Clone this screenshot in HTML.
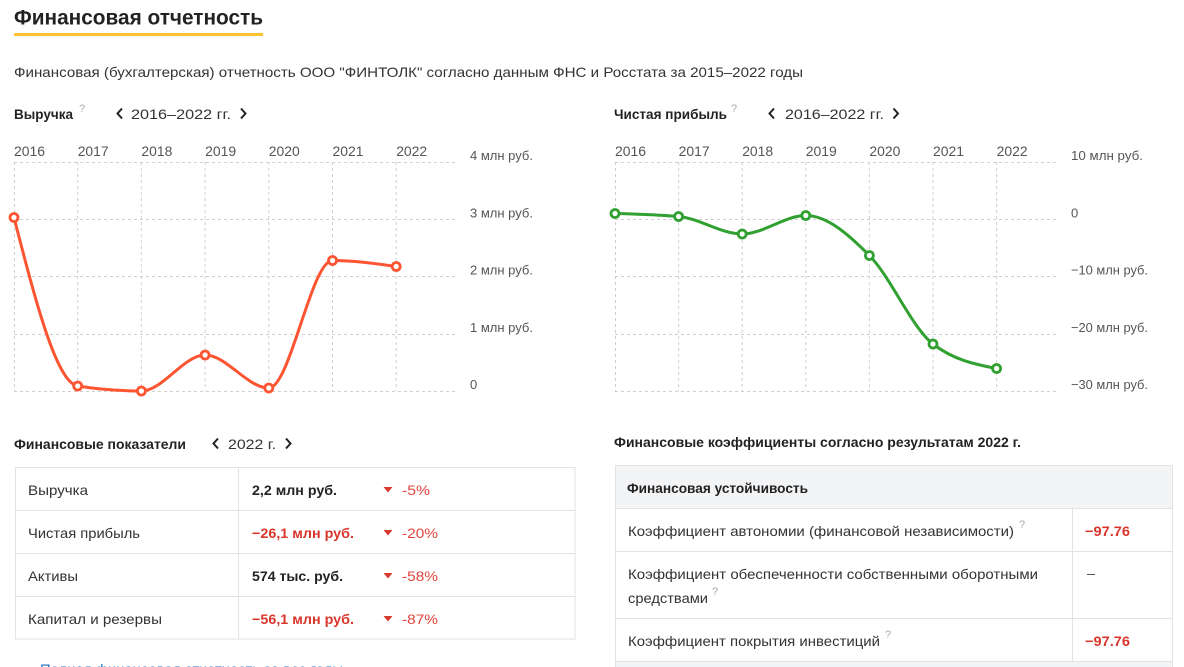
<!DOCTYPE html>
<html lang="ru">
<head>
<meta charset="utf-8">
<style>
html,body{margin:0;padding:0;background:#fff;}
body{width:1184px;height:667px;overflow:hidden;}
svg{display:block;}
text{font-family:"Liberation Sans","DejaVu Sans",sans-serif;}
</style>
</head>
<body>
<svg width="1184" height="667" viewBox="0 0 1184 667" xmlns="http://www.w3.org/2000/svg">
<rect x="0" y="0" width="1184" height="667" fill="#fff"/>

<!-- Title -->
<text x="14" y="24.5" font-size="21" font-weight="bold" fill="#222" textLength="249" lengthAdjust="spacingAndGlyphs">Финансовая отчетность</text>
<rect x="14" y="33" width="249" height="3" fill="#fcc331"/>

<text x="14" y="77" font-size="14" fill="#333" textLength="789" lengthAdjust="spacingAndGlyphs">Финансовая (бухгалтерская) отчетность ООО "ФИНТОЛК" согласно данным ФНС и Росстата за 2015–2022 годы</text>

<!-- Left chart header -->
<text x="14" y="119" font-size="14" font-weight="bold" fill="#222" textLength="59" lengthAdjust="spacingAndGlyphs">Выручка</text>
<text x="79" y="112" font-size="11" fill="#aaa">?</text>
<path d="M122,108.5 L117.5,113.5 L122,118.5" stroke="#222" stroke-width="2" fill="none"/>
<text x="131" y="119" font-size="14" fill="#333" textLength="100" lengthAdjust="spacingAndGlyphs">2016–2022 гг.</text>
<path d="M241,108.5 L245.5,113.5 L241,118.5" stroke="#222" stroke-width="2" fill="none"/>

<!-- Right chart header -->
<text x="614" y="119" font-size="14" font-weight="bold" fill="#222" textLength="113" lengthAdjust="spacingAndGlyphs">Чистая прибыль</text>
<text x="731" y="112" font-size="11" fill="#aaa">?</text>
<path d="M774,108.5 L769.5,113.5 L774,118.5" stroke="#222" stroke-width="2" fill="none"/>
<text x="785" y="119" font-size="14" fill="#333" textLength="99" lengthAdjust="spacingAndGlyphs">2016–2022 гг.</text>
<path d="M893.5,108.5 L898,113.5 L893.5,118.5" stroke="#222" stroke-width="2" fill="none"/>

<!-- Left chart grid -->
<g stroke="#cfcfcf" stroke-width="1" stroke-dasharray="3,3" fill="none">
  <line x1="14" y1="162.5" x2="457" y2="162.5"/>
  <line x1="14" y1="219.5" x2="457" y2="219.5"/>
  <line x1="14" y1="276.5" x2="457" y2="276.5"/>
  <line x1="14" y1="334.5" x2="457" y2="334.5"/>
  <line x1="14" y1="391.5" x2="457" y2="391.5"/>
  <line x1="14.5" y1="162" x2="14.5" y2="391"/>
  <line x1="77.7" y1="162" x2="77.7" y2="391"/>
  <line x1="141.4" y1="162" x2="141.4" y2="391"/>
  <line x1="205.1" y1="162" x2="205.1" y2="391"/>
  <line x1="268.8" y1="162" x2="268.8" y2="391"/>
  <line x1="332.5" y1="162" x2="332.5" y2="391"/>
  <line x1="396.2" y1="162" x2="396.2" y2="391"/>
</g>
<g font-size="14" fill="#555">
  <text x="14" y="156" textLength="31" lengthAdjust="spacingAndGlyphs">2016</text>
  <text x="77.7" y="156" textLength="31" lengthAdjust="spacingAndGlyphs">2017</text>
  <text x="141.4" y="156" textLength="31" lengthAdjust="spacingAndGlyphs">2018</text>
  <text x="205.1" y="156" textLength="31" lengthAdjust="spacingAndGlyphs">2019</text>
  <text x="268.8" y="156" textLength="31" lengthAdjust="spacingAndGlyphs">2020</text>
  <text x="332.5" y="156" textLength="31" lengthAdjust="spacingAndGlyphs">2021</text>
  <text x="396.2" y="156" textLength="31" lengthAdjust="spacingAndGlyphs">2022</text>
</g>
<g font-size="13" fill="#555">
  <text x="470" y="160" textLength="63" lengthAdjust="spacingAndGlyphs">4 млн руб.</text>
  <text x="470" y="217.5" textLength="63" lengthAdjust="spacingAndGlyphs">3 млн руб.</text>
  <text x="470" y="274.5" textLength="63" lengthAdjust="spacingAndGlyphs">2 млн руб.</text>
  <text x="470" y="332" textLength="63" lengthAdjust="spacingAndGlyphs">1 млн руб.</text>
  <text x="470" y="389">0</text>
</g>
<path d="M14,217.5 C35.23,300.08 56.47,382.67 77.7,386 C98.93,389.33 120.17,391 141.4,391 C162.63,391 183.87,355 205.1,355 C226.33,355 247.57,388 268.8,388 C290.03,388 311.27,260.5 332.5,260.5 C353.73,260.5 374.97,263.5 396.2,266.5" stroke="#fd5432" stroke-width="3" fill="none"/>
<g fill="#fff" stroke="#fd5432" stroke-width="2.8">
  <circle cx="14" cy="217.5" r="4"/>
  <circle cx="77.7" cy="386" r="4"/>
  <circle cx="141.4" cy="391" r="4"/>
  <circle cx="205.1" cy="355" r="4"/>
  <circle cx="268.8" cy="388" r="4"/>
  <circle cx="332.5" cy="260.5" r="4"/>
  <circle cx="396.2" cy="266.5" r="4"/>
</g>

<!-- Right chart grid -->
<g stroke="#cfcfcf" stroke-width="1" stroke-dasharray="3,3" fill="none">
  <line x1="615" y1="162.5" x2="1059" y2="162.5"/>
  <line x1="615" y1="219.5" x2="1059" y2="219.5"/>
  <line x1="615" y1="276.5" x2="1059" y2="276.5"/>
  <line x1="615" y1="334.5" x2="1059" y2="334.5"/>
  <line x1="615" y1="391.5" x2="1059" y2="391.5"/>
  <line x1="615.5" y1="162" x2="615.5" y2="391"/>
  <line x1="678.6" y1="162" x2="678.6" y2="391"/>
  <line x1="742.2" y1="162" x2="742.2" y2="391"/>
  <line x1="805.8" y1="162" x2="805.8" y2="391"/>
  <line x1="869.4" y1="162" x2="869.4" y2="391"/>
  <line x1="933" y1="162" x2="933" y2="391"/>
  <line x1="996.6" y1="162" x2="996.6" y2="391"/>
</g>
<g font-size="14" fill="#555">
  <text x="615" y="156" textLength="31" lengthAdjust="spacingAndGlyphs">2016</text>
  <text x="678.6" y="156" textLength="31" lengthAdjust="spacingAndGlyphs">2017</text>
  <text x="742.2" y="156" textLength="31" lengthAdjust="spacingAndGlyphs">2018</text>
  <text x="805.8" y="156" textLength="31" lengthAdjust="spacingAndGlyphs">2019</text>
  <text x="869.4" y="156" textLength="31" lengthAdjust="spacingAndGlyphs">2020</text>
  <text x="933" y="156" textLength="31" lengthAdjust="spacingAndGlyphs">2021</text>
  <text x="996.6" y="156" textLength="31" lengthAdjust="spacingAndGlyphs">2022</text>
</g>
<g font-size="13" fill="#555">
  <text x="1071" y="160" textLength="72" lengthAdjust="spacingAndGlyphs">10 млн руб.</text>
  <text x="1071" y="217.5">0</text>
  <text x="1071" y="274.5" textLength="77" lengthAdjust="spacingAndGlyphs">−10 млн руб.</text>
  <text x="1071" y="332" textLength="77" lengthAdjust="spacingAndGlyphs">−20 млн руб.</text>
  <text x="1071" y="389" textLength="77" lengthAdjust="spacingAndGlyphs">−30 млн руб.</text>
</g>
<path d="M615,213.5 C636.2,214 657.4,214.5 678.6,216.5 C699.8,218.5 721,234 742.2,234 C763.4,234 784.6,215.5 805.8,215.5 C827,215.5 848.2,234.08 869.4,255.5 C890.6,276.92 911.8,327.67 933,344 C954.2,360.33 975.4,364.42 996.6,368.5" stroke="#30a030" stroke-width="3" fill="none"/>
<g fill="#fff" stroke="#30a030" stroke-width="2.8">
  <circle cx="615" cy="213.5" r="4"/>
  <circle cx="678.6" cy="216.5" r="4"/>
  <circle cx="742.2" cy="234" r="4"/>
  <circle cx="805.8" cy="215.5" r="4"/>
  <circle cx="869.4" cy="255.5" r="4"/>
  <circle cx="933" cy="344" r="4"/>
  <circle cx="996.6" cy="368.5" r="4"/>
</g>

<!-- Left table -->
<text x="14" y="449" font-size="14" font-weight="bold" fill="#222" textLength="172" lengthAdjust="spacingAndGlyphs">Финансовые показатели</text>
<path d="M218,438.5 L213.5,443.5 L218,448.5" stroke="#222" stroke-width="2" fill="none"/>
<text x="228" y="449" font-size="14" fill="#333" textLength="48" lengthAdjust="spacingAndGlyphs">2022 г.</text>
<path d="M286,438.5 L290.5,443.5 L286,448.5" stroke="#222" stroke-width="2" fill="none"/>

<g stroke="#e3e3e3" stroke-width="1" fill="none">
  <rect x="15.5" y="467.5" width="559.5" height="171.5"/>
  <line x1="15" y1="510.5" x2="575" y2="510.5"/>
  <line x1="15" y1="553.5" x2="575" y2="553.5"/>
  <line x1="15" y1="596.5" x2="575" y2="596.5"/>
  <line x1="238.5" y1="467" x2="238.5" y2="639"/>
</g>
<g font-size="14" fill="#333">
  <text x="28" y="495" textLength="60" lengthAdjust="spacingAndGlyphs">Выручка</text>
  <text x="28" y="538" textLength="112" lengthAdjust="spacingAndGlyphs">Чистая прибыль</text>
  <text x="28" y="581" textLength="50" lengthAdjust="spacingAndGlyphs">Активы</text>
  <text x="28" y="624" textLength="134" lengthAdjust="spacingAndGlyphs">Капитал и резервы</text>
</g>
<g font-size="14" font-weight="bold">
  <text x="252" y="495" fill="#222" textLength="85" lengthAdjust="spacingAndGlyphs">2,2 млн руб.</text>
  <text x="252" y="538" fill="#d9362b" textLength="102" lengthAdjust="spacingAndGlyphs">−26,1 млн руб.</text>
  <text x="252" y="581" fill="#222" textLength="91" lengthAdjust="spacingAndGlyphs">574 тыс. руб.</text>
  <text x="252" y="624" fill="#d9362b" textLength="102" lengthAdjust="spacingAndGlyphs">−56,1 млн руб.</text>
</g>
<g fill="#d63a2c">
  <polygon points="383.5,487 392.5,487 388,492.5"/>
  <polygon points="383.5,530 392.5,530 388,535.5"/>
  <polygon points="383.5,573 392.5,573 388,578.5"/>
  <polygon points="383.5,616 392.5,616 388,621.5"/>
</g>
<g font-size="14" fill="#e0453a">
  <text x="402" y="495" textLength="28" lengthAdjust="spacingAndGlyphs">-5%</text>
  <text x="402" y="538" textLength="36" lengthAdjust="spacingAndGlyphs">-20%</text>
  <text x="402" y="581" textLength="36" lengthAdjust="spacingAndGlyphs">-58%</text>
  <text x="402" y="624" textLength="36" lengthAdjust="spacingAndGlyphs">-87%</text>
</g>

<text x="40" y="674" font-size="14" fill="#1b6ec2" textLength="303" lengthAdjust="spacingAndGlyphs">Полная финансовая отчетность за все годы</text>

<!-- Right table -->
<text x="614" y="447" font-size="14" font-weight="bold" fill="#222" textLength="407" lengthAdjust="spacingAndGlyphs">Финансовые коэффициенты согласно результатам 2022 г.</text>

<rect x="615" y="465" width="558" height="43" fill="#f3f4f6"/>
<rect x="615" y="661" width="558" height="10" fill="#f3f4f6"/>
<g stroke="#e3e3e3" stroke-width="1" fill="none">
  <line x1="615.5" y1="465" x2="615.5" y2="667"/>
  <line x1="1172.5" y1="465" x2="1172.5" y2="667"/>
  <line x1="615" y1="465.5" x2="1173" y2="465.5"/>
  <line x1="615" y1="508.5" x2="1173" y2="508.5"/>
  <line x1="615" y1="551.5" x2="1173" y2="551.5"/>
  <line x1="615" y1="618.5" x2="1173" y2="618.5"/>
  <line x1="615" y1="661.5" x2="1173" y2="661.5"/>
  <line x1="1072.5" y1="508" x2="1072.5" y2="661"/>
</g>
<text x="627" y="493" font-size="14" font-weight="bold" fill="#222" textLength="181" lengthAdjust="spacingAndGlyphs">Финансовая устойчивость</text>
<g font-size="14" fill="#333">
  <text x="628" y="536" textLength="386" lengthAdjust="spacingAndGlyphs">Коэффициент автономии (финансовой независимости)</text>
  <text x="628" y="579" textLength="410" lengthAdjust="spacingAndGlyphs">Коэффициент обеспеченности собственными оборотными</text>
  <text x="628" y="603" textLength="80" lengthAdjust="spacingAndGlyphs">средствами</text>
  <text x="628" y="646" textLength="252" lengthAdjust="spacingAndGlyphs">Коэффициент покрытия инвестиций</text>
</g>
<g font-size="11" fill="#aaa">
  <text x="1019" y="528">?</text>
  <text x="712" y="595">?</text>
  <text x="885" y="638">?</text>
</g>
<g font-size="14" font-weight="bold" fill="#d9362b">
  <text x="1085" y="536" textLength="45" lengthAdjust="spacingAndGlyphs">−97.76</text>
  <text x="1085" y="646" textLength="45" lengthAdjust="spacingAndGlyphs">−97.76</text>
</g>
<line x1="1087" y1="574.5" x2="1095" y2="574.5" stroke="#555" stroke-width="1"/>
</svg>
</body>
</html>
